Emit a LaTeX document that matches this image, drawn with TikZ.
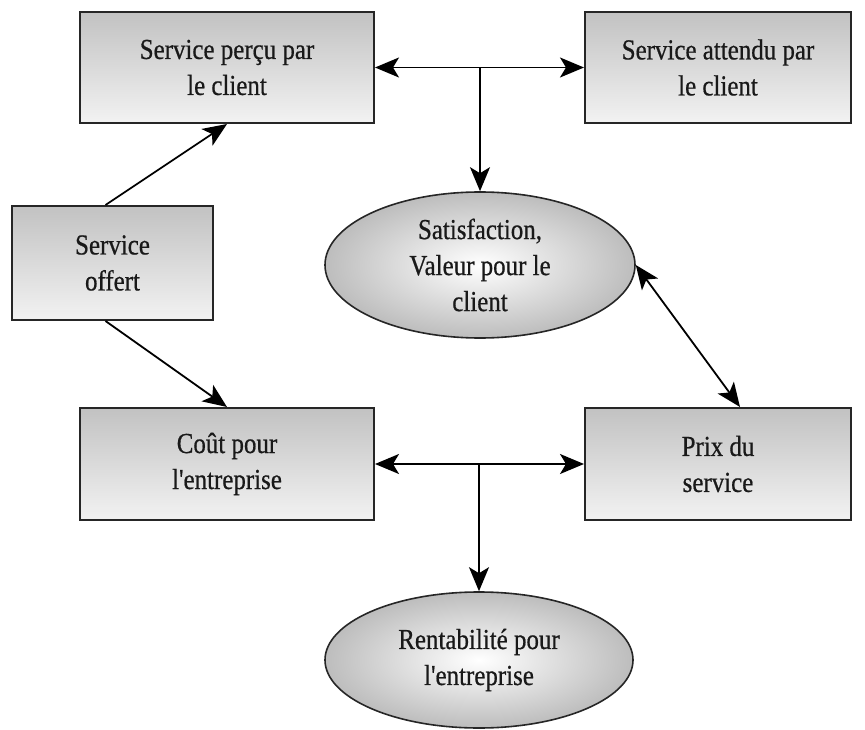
\documentclass[tikz,border=0pt]{standalone}
\usepackage{fontspec}
\setmainfont{Liberation Serif}[FakeStretch=0.86, FakeBold=0.6, Ligatures=TeXOff]
\usetikzlibrary{shapes.geometric,arrows.meta}
\begin{document}
\begin{tikzpicture}[x=1pt,y=-1pt,
  every node/.style={font=\fontsize{29}{36}\selectfont, align=center, text=black!90},
  block/.style={rectangle, draw=black!85, line width=2pt, inner sep=0pt,
    top color=black!24, bottom color=black!5},
  goal/.style={ellipse, draw=black!85, line width=1.6pt, inner sep=0pt,
    inner color=white, outer color=black!26},
  link/.style={line width=1.8pt, draw=black,
    arrows={-Stealth[length=24pt,width=20pt,inset=6pt]}},
  dlink/.style={link, arrows={Stealth[length=24pt,width=20pt,inset=6pt]-Stealth[length=24pt,width=20pt,inset=6pt]}}]
\useasboundingbox (0,0) rectangle (865,730);

% boxes
\node[block, minimum width=294pt, minimum height=111pt] (percu) at (227,67.5) {Service perçu par\\le client};
\node[block, minimum width=266pt, minimum height=111pt] (attendu) at (718,67.5) {Service attendu par\\le client};
\node[block, minimum width=201pt, minimum height=114pt] (offert) at (112.5,263) {Service\\offert};
\node[block, minimum width=294pt, minimum height=112pt] (cout) at (227,464) {Coût pour\\l'entreprise};
\node[block, minimum width=266pt, minimum height=112pt] (prix) at (718,464) {Prix du\\service};

% outcomes
\node[goal, minimum width=310pt, minimum height=146pt] (satis) at (480,265) {Satisfaction,\\Valeur pour le\\client};
\node[goal, minimum width=308pt, minimum height=136pt] (rent) at (479,660) {Rentabilité pour\\l'entreprise};

% connectors
\coordinate (j1) at (percu.east -| satis.north);
\coordinate (j2) at (cout.east -| rent.north);
\draw[dlink] (percu.east) -- (attendu.west);
\draw[link] (j1) -- (satis.north);
\draw[dlink] (cout.east) -- (prix.west);
\draw[link] (j2) -- (rent.north);
\draw[link] ([xshift=-7pt]offert.north) -- (percu.south);
\draw[link] ([xshift=-7pt]offert.south) -- (cout.north);
\draw[dlink] (satis.east) -- ([xshift=22pt]prix.north);
\end{tikzpicture}
\end{document}
